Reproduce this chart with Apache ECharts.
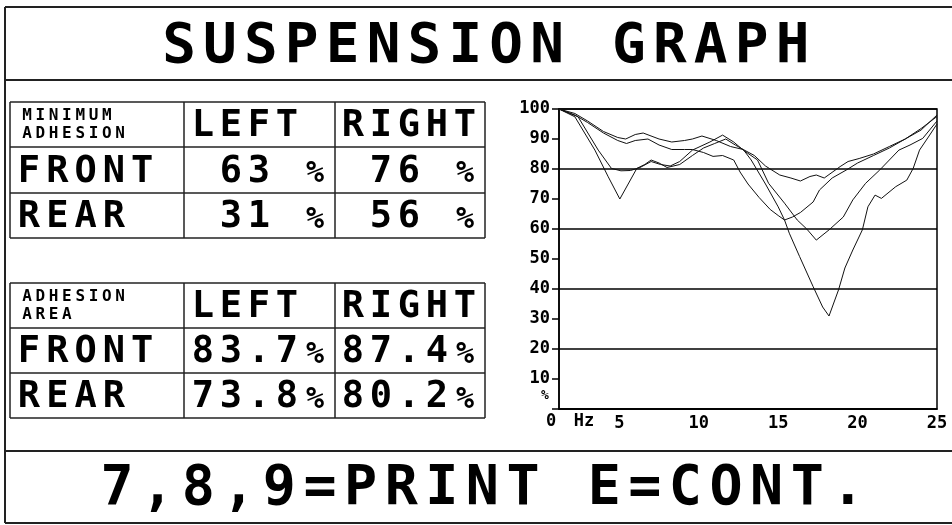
<!DOCTYPE html>
<html>
<head>
<meta charset="utf-8">
<title>Suspension graph</title>
<script src="https://cdn.jsdelivr.net/npm/echarts@6.0.0/dist/echarts.min.js"></script>
<style>
  html, body { margin: 0; padding: 0; background: #fff; }
  #chart { width: 952px; height: 525px; }
</style>
</head>
<body>
<div id="chart"></div>
<script>
// adhesion curves, [frequency Hz, adhesion %]
const rightFront = [[1.2,100],[2.2,98.5],[3,96],[4,92.5],[4.9,90.5],[5.4,90],[6,91.5],[6.5,92],[7.5,90],[8.3,89],[9.1,89.5],[9.6,90],[10.2,91],[11.1,89.5],[12,87.5],[12.8,86.5],[13.5,84.5],[14.2,81],[15.1,78],[15.8,77],[16.4,76],[17,77.5],[17.4,78],[17.9,77],[18.9,80.8],[19.4,82.5],[20.1,83.5],[21,85],[22,87.5],[23,90],[24,93.5],[25,97.5]];
const leftFront = [[1.2,100],[2.2,98],[3,95.5],[4,92],[4.9,89.5],[5.45,88.5],[6,89.5],[6.8,90],[7.5,88],[8.3,86.5],[9.1,86.5],[9.6,86.5],[10.3,85.5],[10.9,84.2],[11.5,84.5],[12.2,83],[12.6,79],[13.1,75],[13.8,70.5],[14.5,66.5],[15,64.5],[15.4,63],[15.9,64],[16.4,65.5],[17.2,69],[17.6,73],[18.4,77],[19.3,79.7],[20,82],[21,84.5],[22,87],[23,90],[24,93],[25,98]];
const rightRear = [[1.2,100],[2.4,97.4],[3.67,86.3],[4.5,80.2],[5.1,79.4],[5.7,79.5],[6.3,80.5],[7,82.5],[7.6,81.5],[8.2,81],[8.8,82.5],[9.6,86.3],[10.7,89],[11.5,91.3],[12.2,89],[12.8,86.3],[13.7,83],[14.4,75.2],[15.4,68.6],[16.2,63],[16.8,60],[17.4,56.3],[18.2,59.7],[19.1,64],[19.7,69.7],[20.5,75.2],[21.4,79.7],[22.6,86.3],[23.3,88],[24.1,90.2],[25,96]];
const leftRear = [[1.2,100],[2.2,97.4],[3.46,86.3],[4.3,77.4],[5.03,70],[5.45,74],[6.1,80.2],[6.6,81.5],[7,83],[7.5,82],[8,80.5],[8.8,81.5],[9.6,84.5],[10.3,87],[11,88.5],[11.7,90],[12.3,88],[12.8,86.5],[13.3,83],[14.2,75],[15,67.4],[15.4,63],[15.7,58.6],[16.35,50.8],[17.2,40.8],[17.8,34],[18.2,31],[18.8,39.7],[19.2,47],[19.7,53],[20.3,59.7],[20.65,67.4],[21.1,71.3],[21.5,70.2],[22.4,74.1],[23.1,76.3],[23.5,80.2],[23.9,86.3],[24.5,91],[25,95]];

// tables
const rowNames = ['FRONT', 'REAR'];
const colNames = ['LEFT', 'RIGHT'];
const minLeft = [63, 31];
const minRight = [76, 56];
const areaLeft = [83.7, 73.8];
const areaRight = [87.4, 80.2];

// axis labels
const xLabels = [5, 10, 15, 20, 25];
const yLabels = [10, 20, 30, 40, 50, 60, 70, 80, 90, 100];
const yTicks = [0, 10, 20, 30, 40, 50, 60, 70, 80, 90, 100];

const FONT = '"DejaVu Sans Mono", monospace';

// one text per character, like the DOS screen grid
function spaced(str, x, y, pitch, size) {
  const out = [];
  for (let i = 0; i < str.length; i++) {
    const ch = str[i];
    if (ch === ' ') continue;
    const small = ch === '%';
    out.push({
      type: 'text',
      x: x + i * pitch,
      y: y + (small ? size * 0.07 : 0),
      style: {
        text: ch,
        fill: '#000',
        fontFamily: FONT,
        fontWeight: 'bold',
        fontSize: small ? Math.round(size * 0.8) : size,
        textAlign: 'center',
        textVerticalAlign: 'middle',
        align: 'center',
        verticalAlign: 'middle'
      }
    });
  }
  return out;
}

function line(x1, y1, x2, y2, w) {
  return {
    type: 'line',
    shape: { x1: x1, y1: y1, x2: x2, y2: y2 },
    style: { stroke: '#222', lineWidth: w || 1.5 }
  };
}

// table with header row and FRONT / REAR rows
function table(rows, header, left, right, fmt) {
  const cols = [10, 184, 335, 485];
  const els = [];
  rows.forEach(y => els.push(line(cols[0], y, cols[3], y)));
  cols.forEach(x => els.push(line(x, rows[0], x, rows[3])));
  els.push(...spaced(header[0], 27, rows[0] + 14, 13.3, 16));
  els.push(...spaced(header[1], 27, rows[0] + 31.5, 13.3, 16));
  els.push(...spaced(colNames[0], 203, (rows[0] + rows[1]) / 2 + 2, 28, 37));
  els.push(...spaced(colNames[1], 353, (rows[0] + rows[1]) / 2 + 2, 28, 37));
  for (let r = 0; r < 2; r++) {
    const cy = (rows[r + 1] + rows[r + 2]) / 2 + 2;
    els.push(...spaced(rowNames[r], 29, cy, 28.3, 37));
    els.push(...spaced(fmt(left[r]), 203, cy, 28, 37));
    els.push(...spaced(fmt(right[r]), 353, cy, 28, 37));
  }
  return els;
}

const fmtMin = v => String(v).padStart(3, ' ') + ' %';
const fmtArea = v => v.toFixed(1) + '%';

const axisText = (text, x, y, size) => ({
  type: 'text',
  x: x,
  y: y,
  style: {
    text: text, fill: '#000', fontFamily: FONT, fontWeight: 'bold', fontSize: size,
    textAlign: 'center', textVerticalAlign: 'middle', align: 'center', verticalAlign: 'middle'
  }
});

const graphic = [
  // screen frame
  line(5, 7, 952, 7, 2),
  line(5, 80, 952, 80, 2),
  line(5, 451, 952, 451, 2),
  line(5, 523, 952, 523, 2),
  line(5, 7, 5, 523, 2),
  ...spaced('SUSPENSION GRAPH', 179, 47, 40.9, 56),
  ...spaced('7,8,9=PRINT E=CONT.', 117, 490, 40.6, 55),
  ...table([102, 147, 193, 238], ['MINIMUM', 'ADHESION'], minLeft, minRight, fmtMin),
  ...table([283, 328, 373, 418], ['ADHESION', 'AREA'], areaLeft, areaRight, fmtArea),
  axisText('0', 551, 422, 17),
  axisText('Hz', 584, 422, 17),
  axisText('%', 545, 396, 13)
];

const labelStyle = {
  color: '#000',
  fontFamily: FONT,
  fontWeight: 'bold',
  fontSize: 17
};

const chart = echarts.init(document.getElementById('chart'));
chart.setOption({
  backgroundColor: '#fff',
  animation: false,
  grid: {
    left: 559,
    right: 15,
    top: 109,
    bottom: 116,
    show: true,
    borderColor: '#000',
    borderWidth: 1.5,
    containLabel: false,
    outerBoundsMode: 'none'
  },
  xAxis: {
    type: 'value',
    min: 1.2,
    max: 25,
    axisLine: { lineStyle: { color: '#000', width: 1.5 } },
    axisTick: { show: false },
    splitLine: { show: false },
    axisLabel: Object.assign({ customValues: xLabels, margin: 6 }, labelStyle)
  },
  yAxis: {
    type: 'value',
    min: 0,
    max: 100,
    interval: 10,
    axisLine: { show: true, lineStyle: { color: '#000', width: 1.5 } },
    axisTick: { show: true, length: 7, customValues: yTicks, lineStyle: { color: '#000', width: 1.5 } },
    axisLabel: Object.assign({ customValues: yLabels, margin: 9 }, labelStyle),
    // grid lines only every 20 %
    splitLine: { show: true, lineStyle: { color: ['#000', 'rgba(0,0,0,0)'], width: 1.5 } }
  },
  series: [rightFront, leftFront, rightRear, leftRear].map(d => ({
    type: 'line',
    data: d,
    symbol: 'none',
    lineStyle: { color: '#111', width: 1 }
  })),
  graphic: graphic
});
</script>
</body>
</html>
